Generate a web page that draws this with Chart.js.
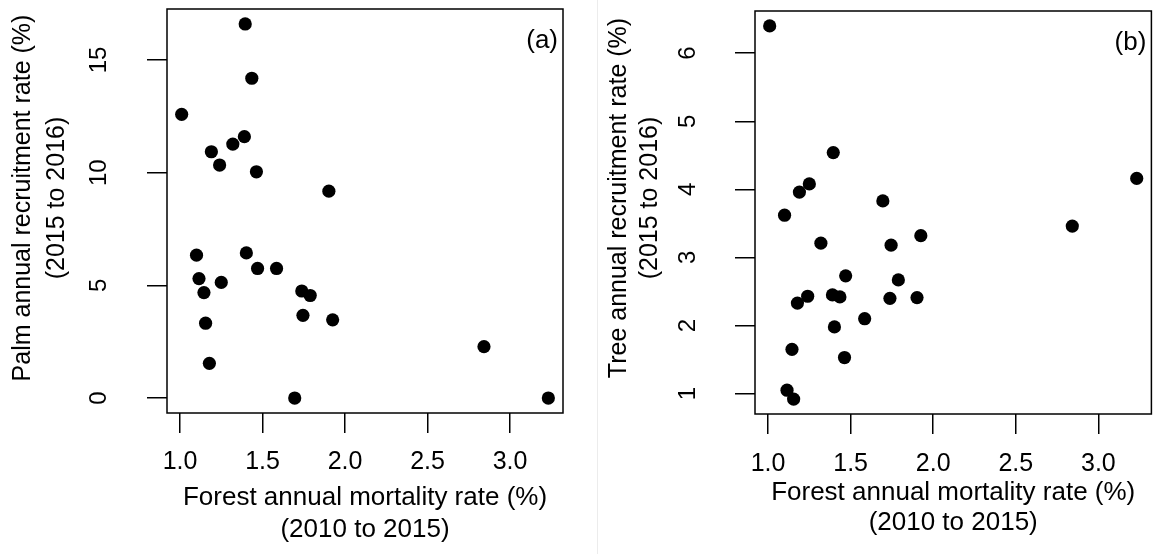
<!DOCTYPE html>
<html>
<head>
<meta charset="utf-8">
<script src="https://cdn.jsdelivr.net/npm/chart.js@4.4.1/dist/chart.umd.min.js"></script>
<style>
  html, body { margin: 0; padding: 0; background: #fff; }
  #wrap { position: relative; width: 1158px; height: 554px; overflow: hidden; }
  canvas { position: absolute; top: 0; }
  #chartA { left: 0; }
  #chartB { left: 579px; }
  #sep { position: absolute; left: 597px; top: 0; width: 1px; height: 554px; background: #ececec; }
</style>
</head>
<body>
<div id="wrap">
  <canvas id="chartA" width="579" height="554"></canvas>
  <div id="sep"></div>
  <canvas id="chartB" width="579" height="554"></canvas>
</div>
<script>
// forest mortality per plot (same plots in both panels)
const mortality = [1.01, 1.10, 1.115, 1.145, 1.155, 1.178, 1.19, 1.24, 1.25, 1.32,
                   1.39, 1.395, 1.402, 1.435, 1.463, 1.47, 1.585, 1.695, 1.738, 1.745,
                   1.789, 1.902, 1.925, 2.842, 3.232];
const palmRecruitment = [12.59, 6.34, 5.30, 4.68, 3.32, 1.54, 10.93, 10.34, 5.13, 11.27,
                         11.60, 16.60, 6.44, 14.19, 10.04, 5.75, 5.75, 0.0, 4.75, 3.67,
                         4.55, 9.18, 3.47, 2.28, 0.0];
const treeRecruitment = [6.40, 3.62, 1.05, 1.65, 0.92, 2.33, 3.96, 2.43, 4.08, 3.21,
                         2.45, 4.54, 1.98, 2.42, 1.53, 2.73, 2.10, 3.83, 2.40, 3.18,
                         2.67, 2.41, 3.32, 3.46, 4.16];

const xTicks = [1.0, 1.5, 2.0, 2.5, 3.0];
const palmTicks = [0, 5, 10, 15];
const treeTicks = [1, 2, 3, 4, 5, 6];

const xTitle = ['Forest annual mortality rate (%)', '(2010 to 2015)'];
const palmTitle = ['Palm annual recruitment rate (%)', '(2015 to 2016)'];
const treeTitle = ['Tree annual recruitment rate (%)', '(2015 to 2016)'];

const FONT = '"Liberation Sans", Arial, Helvetica, sans-serif';

// R-style axis range: data range stretched by 4% on each side
function rRange(vals) {
  const lo = Math.min(...vals), hi = Math.max(...vals);
  const pad = (hi - lo) * 0.04;
  return [lo - pad, hi + pad];
}

// box around plot, panel tag and the y title
const framePlugin = {
  id: 'frame',
  afterDraw(chart) {
    const { ctx, chartArea: a } = chart;
    const o = chart.options.plugins.frame;
    ctx.save();
    ctx.strokeStyle = '#000';
    ctx.lineWidth = 1.5;
    ctx.strokeRect(a.left, a.top, a.right - a.left, a.bottom - a.top);

    ctx.fillStyle = '#000';
    ctx.font = '26px ' + FONT;
    ctx.textAlign = 'right';
    ctx.textBaseline = 'middle';
    ctx.fillText(o.tag, a.right - 5, a.top + 32);

    ctx.font = '25px ' + FONT;
    ctx.textAlign = 'center';
    ctx.translate(o.yTitleX, o.yTitleY);
    ctx.rotate(-Math.PI / 2);
    o.yTitle.forEach((line, i) => ctx.fillText(line, 0, i * o.yTitleLH));
    ctx.restore();
  }
};

function scatterPanel(id, yValues, yTicks, yTitle, tag, lay) {
  const xr = rRange(mortality);
  const yr = rRange(yValues);
  new Chart(document.getElementById(id), {
    type: 'scatter',
    data: {
      datasets: [{
        data: mortality.map((x, i) => ({ x: x, y: yValues[i] })),
        backgroundColor: '#000',
        borderColor: '#000',
        borderWidth: 0,
        pointRadius: 6.6,
        pointHoverRadius: 6.6
      }]
    },
    options: {
      responsive: false,
      animation: false,
      events: [],
      layout: { padding: lay.padding },
      plugins: {
        legend: { display: false },
        tooltip: { enabled: false },
        frame: { tag: tag, yTitle: yTitle, yTitleX: lay.yTitleX, yTitleY: lay.yTitleY, yTitleLH: lay.yTitleLH }
      },
      scales: {
        x: {
          type: 'linear',
          min: xr[0],
          max: xr[1],
          afterBuildTicks: s => { s.ticks = xTicks.map(v => ({ value: v })); },
          afterFit: s => { s.height = lay.xHeight; s.paddingLeft = 0; s.paddingRight = 0; },
          grid: { drawOnChartArea: false, drawTicks: true, tickLength: 20, color: '#000', lineWidth: 1.5 },
          border: { display: false },
          ticks: {
            autoSkip: false, maxRotation: 0, padding: lay.xTickPad, color: '#000',
            font: { family: FONT, size: 25 },
            callback: v => v.toFixed(1)
          },
          title: {
            display: true, text: xTitle, color: '#000',
            font: { family: FONT, size: 26, lineHeight: lay.xTitleLH / 26 },
            padding: { top: 0, bottom: lay.xTitlePad }
          }
        },
        y: {
          type: 'linear',
          min: yr[0],
          max: yr[1],
          afterBuildTicks: s => { s.ticks = yTicks.map(v => ({ value: v })); },
          afterFit: s => { s.width = lay.yWidth; s.paddingTop = 0; s.paddingBottom = 0; },
          grid: { drawOnChartArea: false, drawTicks: true, tickLength: 20, color: '#000', lineWidth: 1.5 },
          border: { display: false },
          ticks: {
            autoSkip: false, minRotation: 90, maxRotation: 90, crossAlign: 'center',
            padding: lay.yTickPad, color: '#000',
            font: { family: FONT, size: 24 },
            callback: v => String(v)
          }
        }
      }
    },
    plugins: [framePlugin]
  });
}

scatterPanel('chartA', palmRecruitment, palmTicks, palmTitle, '(a)', {
  padding: { top: 9, right: 16, left: 0, bottom: 0 },
  yWidth: 167, xHeight: 141,
  xTickPad: 14, yTickPad: 34,
  xTitleLH: 32, xTitlePad: 8,
  yTitleX: 23, yTitleY: 198, yTitleLH: 34
});

scatterPanel('chartB', treeRecruitment, treeTicks, treeTitle, '(b)', {
  padding: { top: 11, right: 6, left: 0, bottom: 0 },
  yWidth: 176, xHeight: 140,
  xTickPad: 15, yTickPad: 40,
  xTitleLH: 30, xTitlePad: 16,
  yTitleX: 40, yTitleY: 198, yTitleLH: 31
});
</script>
</body>
</html>
